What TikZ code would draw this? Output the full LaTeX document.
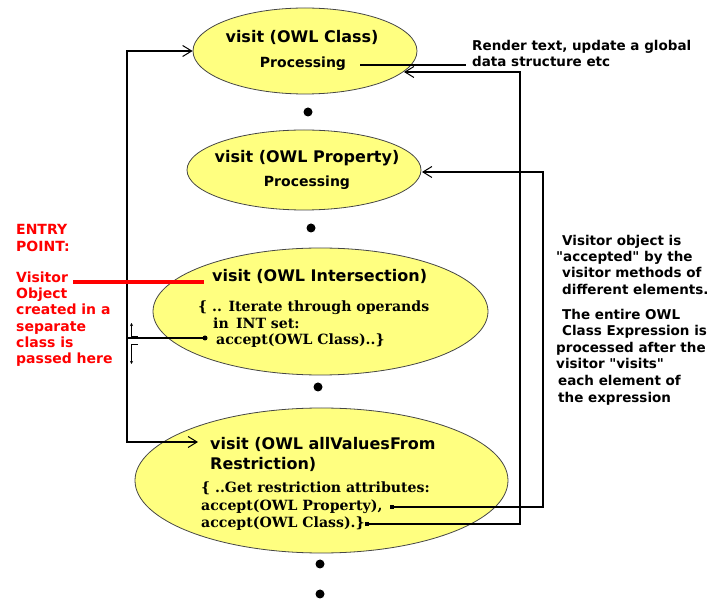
\documentclass[tikz,border=0pt]{standalone}
\usepackage{fontspec}
\usetikzlibrary{shapes.geometric,arrows.meta}
\newfontfamily\dvsans{DejaVu Sans}
\newfontfamily\dvserif{DejaVu Serif}
\definecolor{ellfill}{RGB}{255,255,128}
\definecolor{ellline}{RGB}{70,70,70}
\definecolor{entryred}{RGB}{255,0,0}
\tikzset{
  ell/.style={ellipse, draw=ellline, fill=ellfill, line width=0.8pt, inner sep=0pt},
  titletxt/.style={font=\dvsans\bfseries\fontsize{16}{19}\selectfont, inner sep=0pt},
  proctxt/.style={font=\dvsans\bfseries\fontsize{14}{17}\selectfont, inner sep=0pt, anchor=base},
  codetxt/.style={font=\dvserif\bfseries\fontsize{14.1}{17}\selectfont, inner sep=0pt, anchor=base west},
  redtxt/.style={font=\dvsans\bfseries\fontsize{14}{16}\selectfont, text=entryred, inner sep=0pt, anchor=base west},
  notetxt/.style={font=\dvsans\bfseries\fontsize{13.5}{16}\selectfont, inner sep=0pt, anchor=base west},
  conn/.style={line width=1.6pt},
  barb/.style={-{Straight Barb[length=9pt,width=11pt,line width=1pt]}},
  bigdot/.style={circle, fill=black, inner sep=0pt, minimum size=9pt},
  smalldot/.style={circle, fill=black, inner sep=0pt, minimum size=5pt},
  sqdot/.style={rectangle, fill=black, inner sep=0pt, minimum size=4.5pt},
  tick/.style={line width=0.8pt},
  ticktip/.style={-{Stealth[length=3pt,width=3pt]}},
}
\begin{document}
\begin{tikzpicture}[x=1pt,y=-1pt]
\fill[white] (0,0) rectangle (721,601);
\useasboundingbox (0,0) rectangle (721,601);

% ellipses
\node[ell, minimum width=224pt, minimum height=86pt] (e1) at (305,51) {};
\node[ell, minimum width=234pt, minimum height=80pt] (e2) at (304,170) {};
\node[ell, minimum width=335pt, minimum height=127pt] (e3) at (320.5,311.5) {};
\node[ell, minimum width=373pt, minimum height=145pt] (e4) at (321.5,480.5) {};

% ellipse texts
\node[titletxt, anchor=base] (t1) at (302,43) {visit (OWL Class)};
\node[proctxt] (p1) at (303,68) {Processing};
\node[titletxt, anchor=base] (t2) at (307,163) {visit (OWL Property)};
\node[proctxt] (p2) at (307,187) {Processing};
\node[titletxt, anchor=base west] (t3) at (212,282) {visit (OWL Intersection)};
\node[codetxt] (c31) at (198,312) {\{ .. Iterate through operands};
\node[codetxt] (c32) at (213,329) {in\, INT set:};
\node[codetxt] (c33) at (216,345) {accept(OWL Class)..\}};
\node[titletxt, anchor=base west] (t4a) at (210,450) {visit (OWL allValuesFrom};
\node[titletxt, anchor=base west] (t4b) at (210,470) {Restriction)};
\node[codetxt] (c41) at (201,493) {\{ ..Get restriction attributes:};
\node[codetxt] (c42) at (201,511) {accept(OWL Property),};
\node[codetxt] (c43) at (201,528) {accept(OWL Class).\}};

% dots between ellipses
\node[bigdot] (d1) at (308,112) {};
\node[bigdot] (d2) at (311,228) {};
\node[bigdot] (d3) at (318,387) {};
\node[bigdot] (d4) at (320,564) {};
\node[bigdot] (d5) at (320,594) {};

% annotation: render text
\node[notetxt] (r1) at (472,51) {Render text, update a global};
\node[notetxt] (r2) at (472,67) {data structure etc};
\coordinate (pl) at (360,65);
\coordinate (pr) at (466,65);
\draw[line width=1.2pt] (pl) -- (pr);

% right notes
\node[notetxt] (n1) at (562,246) {Visitor object is};
\node[notetxt] (n2) at (556,262) {"accepted" by the};
\node[notetxt] (n3) at (562,278) {visitor methods of};
\node[notetxt] (n4) at (562,295) {different elements.};
\node[notetxt] (n5) at (562,320) {The entire OWL};
\node[notetxt] (n6) at (562,336) {Class Expression is};
\node[notetxt] (n7) at (556,353) {processed after the};
\node[notetxt] (n8) at (556,369) {visitor "visits"};
\node[notetxt] (n9) at (558,386) {each element of};
\node[notetxt] (n10) at (558,403) {the expression};

% red entry text
\node[redtxt] (x1) at (16,235) {ENTRY};
\node[redtxt] (x2) at (16,252) {POINT:};
\node[redtxt] (x3) at (16,283) {Visitor};
\node[redtxt] (x4) at (16,299) {Object};
\node[redtxt] (x5) at (16,315) {created in a};
\node[redtxt] (x6) at (16,332) {separate};
\node[redtxt] (x7) at (16,348) {class is};
\node[redtxt] (x8) at (16,364) {passed here};

% left loop
\node[smalldot] (b3) at (205,338) {};
\coordinate (jL) at (127,338);
\coordinate (a4) at (198,442);
\draw[conn, barb] (b3.center) -- (jL) |- (e1.west);
\draw[conn, barb] (jL) |- (a4);

% right loops
\node[sqdot] (s41) at (392,507) {};
\node[sqdot] (s42) at (367,524) {};
\coordinate (a1) at (404,72);
\coordinate (a2) at (422,172);
\draw[conn, barb] (s42.center) -| (520,72) -- (a1);
\draw[conn, barb] (s41.center) -| (543,172) -- (a2);

% red entry line
\coordinate (rl) at (73,282);
\coordinate (rr) at (204,282);
\draw[entryred, line width=4pt] (rl) -- (rr);

% small return marks
\coordinate (m1a) at (138,336);
\coordinate (m1b) at (131.5,336);
\coordinate (m1c) at (131.5,323);
\coordinate (m2a) at (138,344);
\coordinate (m2b) at (131.5,344);
\coordinate (m2c) at (131.5,364);
\draw[tick, ticktip] (m1a) -- (m1b) -- (m1c);
\draw[tick, ticktip] (m2a) -- (m2b) -- (m2c);
\end{tikzpicture}
\end{document}
